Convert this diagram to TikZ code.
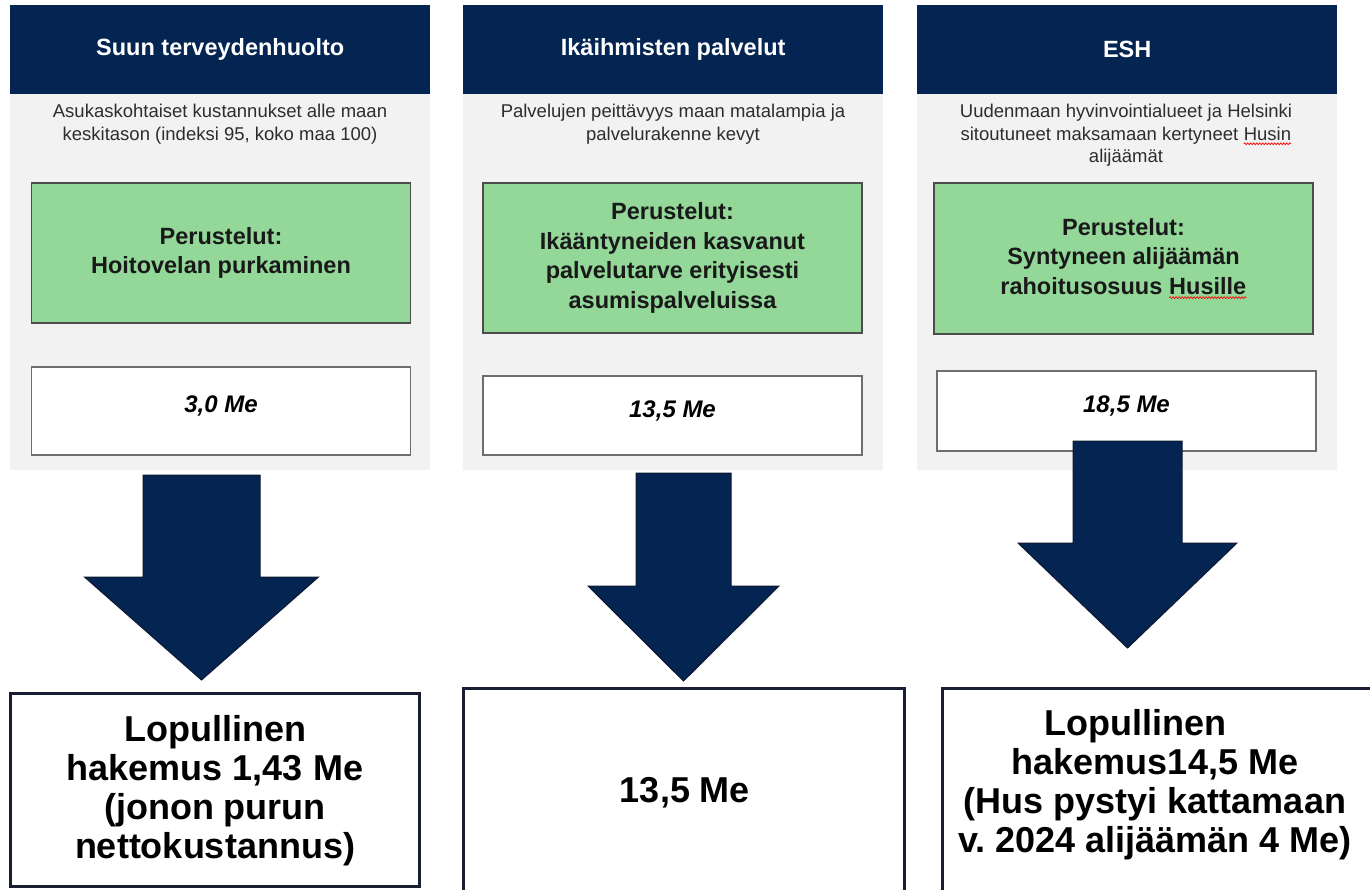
\documentclass[tikz,border=0pt]{standalone}
\usepackage{fontspec}
\setmainfont{Liberation Sans}
\usetikzlibrary{positioning,decorations.pathmorphing}

\definecolor{navy}{RGB}{4,36,82}
\definecolor{arrowedge}{RGB}{12,24,48}
\definecolor{panelgray}{RGB}{242,242,242}
\definecolor{reasongreen}{RGB}{147,215,153}
\definecolor{notegray}{RGB}{45,45,45}
\definecolor{framegray}{RGB}{110,110,110}
\definecolor{resultedge}{RGB}{25,30,50}

\newcommand{\paneltitlefont}{\bfseries\fontsize{23.5}{28}\selectfont}
\newcommand{\notefont}{\fontsize{18.5}{22.5}\selectfont}
\newcommand{\reasonfont}{\bfseries\fontsize{23.5}{29.5}\selectfont}
\newcommand{\amountfont}{\bfseries\itshape\fontsize{24}{28}\selectfont}
\newcommand{\resultfont}{\bfseries\fontsize{36}{39}\selectfont}

% red spell-check wave under a word
\newcommand{\spellmark}[1]{\tikz[baseline=(spellword.base)]{%
  \node[draw=none, fill=none, minimum width=0pt, minimum height=0pt, inner sep=0pt, outer sep=0pt, anchor=base] (spellword) at (0,0) {#1};
  \draw[red, line width=0.7pt, decorate, decoration={snake, amplitude=0.9pt, segment length=3pt}]
    ([yshift=-3.5pt]spellword.base west) -- ([yshift=-3.5pt]spellword.base east);}}

% block arrow: centre x, top, shaft half width, head base, head half width, tip
\newcommand{\bigdown}[6]{%
  \draw[bigarrow] ({#1-#3},#2) -- ({#1+#3},#2) -- ({#1+#3},#4) -- ({#1+#5},#4)
    -- (#1,#6) -- ({#1-#5},#4) -- ({#1-#3},#4) -- cycle;}

\tikzset{
  panel/.style={fill=panelgray, minimum width=420pt, minimum height=465pt, inner sep=0pt, anchor=north west},
  header/.style={fill=navy, text=white, font=\paneltitlefont, minimum width=420pt, minimum height=89pt, inner sep=0pt, anchor=north},
  note/.style={align=center, text=notegray, font=\notefont},
  reason/.style={draw=black!70, line width=1.3pt, fill=reasongreen, text=black!90, align=center, font=\reasonfont, minimum width=379pt, inner sep=0pt},
  amount/.style={draw=framegray, line width=1.3pt, fill=white, minimum width=379pt, inner sep=0pt},
  amounttext/.style={font=\amountfont},
  result/.style={draw=resultedge, line width=3pt, fill=white, inner sep=0pt},
  resulttext/.style={align=center, font=\resultfont},
  bigarrow/.style={fill=navy, draw=arrowedge, line width=1pt}
}

\frenchspacing

\begin{document}
\begin{tikzpicture}[x=1pt, y=-1pt]
    \useasboundingbox (0,0) rectangle (1370,890);
    \fill[white] (0,0) rectangle (1370,890);

    % Define panels
    \node[panel]			(panel1)	at (10,5)	{};
    \node[panel]			(panel2)	at (463,5)	{};
    \node[panel]			(panel3)	at (917,5)	{};
    \node[header]			(head1)		at (panel1.north)	{Suun terveydenhuolto};
    \node[header]			(head2)		at (panel2.north)	{Ikäihmisten palvelut};
    \node[header]			(head3)		at (panel3.north)	{ESH};

    % Background notes
    \node[note]				(note1)		at (220,124)	{Asukaskohtaiset kustannukset alle maan\\keskitason (indeksi 95, koko maa 100)};
    \node[note]				(note2)		at (673,124)	{Palvelujen peittävyys maan matalampia ja\\palvelurakenne kevyt};
    \node[note]				(note3)		at (1126,135.5)	{Uudenmaan hyvinvointialueet ja Helsinki\\sitoutuneet maksamaan kertyneet \spellmark{Husin}\\alijäämät};

    % Reasons
    \node[reason, minimum height=140pt]	(reason1)	at (221,253)	{Perustelut:\\Hoitovelan purkaminen};
    \node[reason, minimum height=150pt]	(reason2)	at (672.5,258)	{Perustelut:\\Ikääntyneiden kasvanut\\palvelutarve erityisesti\\asumispalveluissa};
    \node[reason, minimum height=151pt]	(reason3)	at (1123.5,258.5)	{Perustelut:\\Syntyneen alijäämän\\rahoitusosuus \spellmark{Husille}};

    % Applied amounts
    \node[amount, minimum height=88pt]	(amount1)	at (221,411)	{};
    \node[amount, minimum height=79pt]	(amount2)	at (672.5,415.5)	{};
    \node[amount, minimum height=80pt]	(amount3)	at (1126.5,411)	{};
    \node[amounttext]		(sum1)		at ([yshift=5pt]amount1.center)	{3,0 Me};
    \node[amounttext]		(sum2)		at ([yshift=5pt]amount2.center)	{13,5 Me};
    \node[amounttext]		(sum3)		at ([yshift=5pt]amount3.center)	{18,5 Me};

    % Arrows
    \bigdown{201.5}{475}{58.5}{577}{117}{680}
    \bigdown{683.5}{473}{47.5}{586}{95.5}{681}
    \bigdown{1127.5}{441}{54.5}{543}{109.5}{648}

    % Final results
    \node[result, minimum width=409pt, minimum height=193pt]	(result1)	at (214.5,789.5)	{};
    \node[result, minimum width=441pt, minimum height=212pt]	(result2)	at (683.5,794)	{};
    \node[result, minimum width=443pt, minimum height=212pt]	(result3)	at (1163.5,794)	{};
    \node[resulttext]		(final1)	at (215,791)	{Lopullinen\\hakemus 1,43 Me\\(jonon purun\\nettokustannus)};
    \node[resulttext]		(final2)	at (685,793)	{13,5 Me};
    \node[resulttext]		(final3)	at (1155,784.5)	{Lopullinen\hspace*{40pt}\\hakemus14,5 Me\\(Hus pystyi kattamaan\\v. 2024 alijäämän 4 Me)};
\end{tikzpicture}
\end{document}
